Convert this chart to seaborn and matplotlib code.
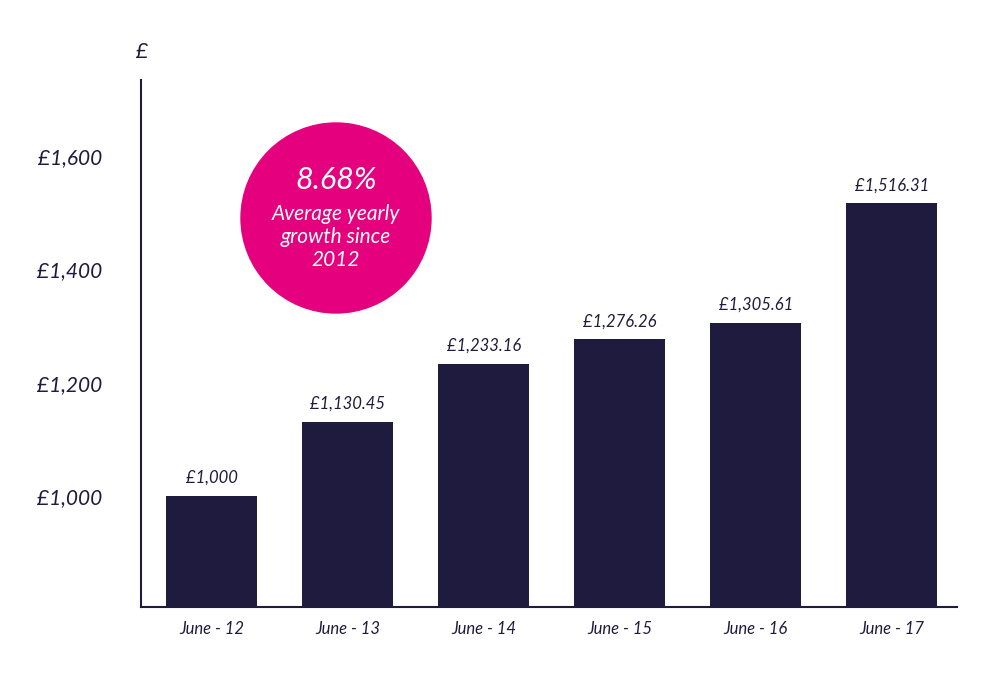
import matplotlib
matplotlib.use("Agg")
import matplotlib.pyplot as plt
from matplotlib.patches import Circle
import seaborn as sns
import pandas as pd

categories = ["June - 12", "June - 13", "June - 14", "June - 15", "June - 16", "June - 17"]
values = [1000, 1130.45, 1233.16, 1276.26, 1305.61, 1516.31]
value_labels = ["£1,000", "£1,130.45", "£1,233.16", "£1,276.26", "£1,305.61", "£1,516.31"]
yticks = [1000, 1200, 1400, 1600]
ytick_labels = ["£1,000", "£1,200", "£1,400", "£1,600"]

plt.rcParams["font.family"] = "Lato"
navy = "#1F1B3F"
pink = "#E5007E"

df = pd.DataFrame({"cat": categories, "val": values})
fig = plt.figure(figsize=(10, 6.79), dpi=100)
ax = fig.add_axes([0.141, 0.106, 0.816, 0.776])
sns.barplot(data=df, x="cat", y="val", color=navy, width=0.67, saturation=1, ax=ax)
ax.set_ylim(804, 1734)
ax.set_xlim(-0.52, 5.48)
ax.set_yticks(yticks)
ax.set_yticklabels(ytick_labels, fontsize=15, style="italic", color=navy)
for t in ax.get_xticklabels():
    t.set_fontsize(12); t.set_style("italic"); t.set_color(navy)
ax.tick_params(length=0, axis="y", pad=28)
ax.tick_params(length=0, axis="x", pad=10)
ax.set_xlabel(""); ax.set_ylabel("")
for s in ["top", "right"]:
    ax.spines[s].set_visible(False)
for s in ["left", "bottom"]:
    ax.spines[s].set_color(navy); ax.spines[s].set_linewidth(1.5)
for i, (v, l) in enumerate(zip(values, value_labels)):
    ax.text(i, v + 18, l, ha="center", va="bottom", fontsize=12, style="italic", color=navy)
fig.text(0.142, 1 - 52 / 679, "£", fontsize=15, style="italic", color=navy, ha="center", va="center")

fig.add_artist(Circle((336, 679 - 218), 95, transform=None, color=pink))
fig.text(0.336, 1 - 180 / 679, "8.68%", fontsize=22, style="italic", color="white", ha="center", va="center")
fig.text(0.336, 1 - 237 / 679, "Average yearly\ngrowth since\n2012", fontsize=15, style="italic",
         color="white", ha="center", va="center", linespacing=1.2)
fig.savefig("out.png", dpi=100, facecolor="white")
